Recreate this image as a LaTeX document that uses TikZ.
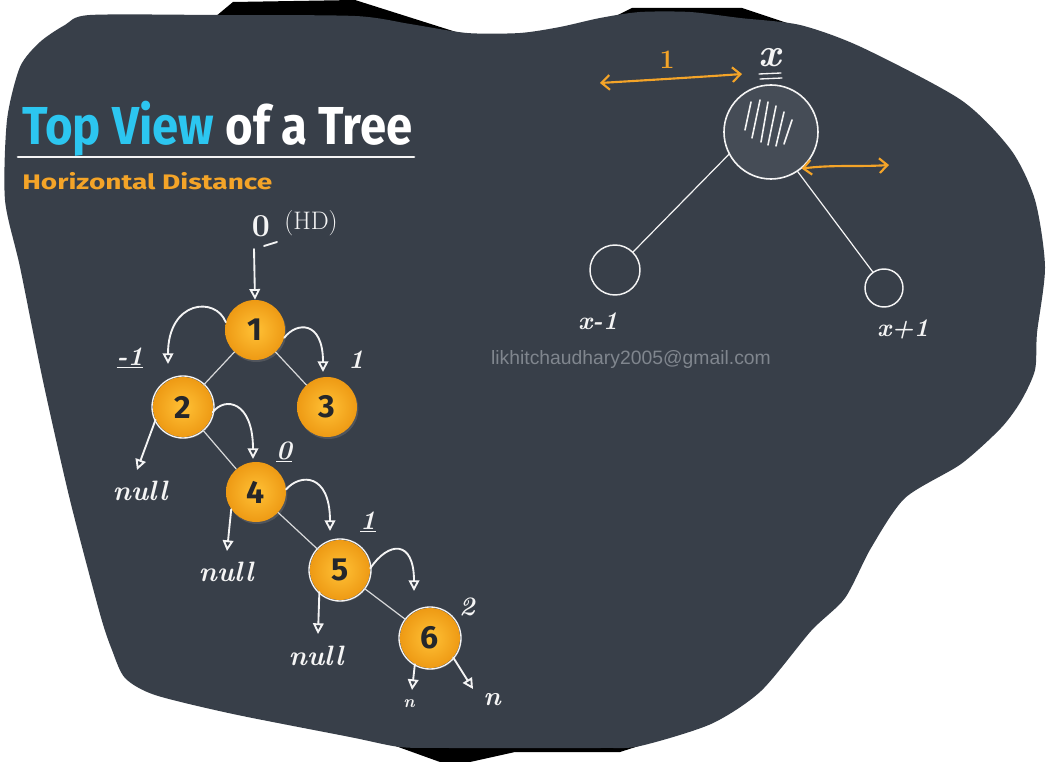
\documentclass[tikz,border=0pt]{standalone}
\usepackage{graphicx}
\usepackage{fontspec}
\setsansfont{Fira Sans}
\newfontfamily\mailfont{Liberation Sans}
\usetikzlibrary{arrows.meta,calc,positioning,shadows}
\definecolor{slate}{HTML}{383F49}
\definecolor{discgray}{HTML}{454C56}
\definecolor{topcyan}{HTML}{2CC6F0}
\definecolor{hdorange}{HTML}{F4A428}
\definecolor{ballhi}{HTML}{FFC136}
\definecolor{balllo}{HTML}{EE9A14}
\definecolor{digit}{HTML}{25272B}
\definecolor{mailgray}{HTML}{80868E}
\definecolor{chalk}{HTML}{F4F4F4}
\def\BallSize{45pt}
\def\RingR{31}
\def\HatchStrokes{-20/30/-26/2, -11/32/-19/-6, -3/30/-10/-10, 5/26/-3/-13, 13/20/5/-14, 21/12/13/-12}

\begin{document}
\begin{tikzpicture}[
  x=0.75pt, y=0.75pt,
  >={Triangle[open,length=8pt,width=8pt]}, line cap=round, line join=round,
  ball/.style={circle, minimum size=\BallSize, inner sep=0pt,
    inner color=ballhi, outer color=balllo, text=digit,
    font=\sffamily\bfseries\fontsize{24}{24}\selectfont,
    drop shadow={shadow xshift=1pt, shadow yshift=-1.5pt, opacity=0.35}},
  branch/.style={chalk!85!slate, line width=0.9pt},
  hand/.style={chalk, line width=1.4pt},
  handlabel/.style={chalk, inner sep=1pt, font=\bfseries\itshape\fontsize{20}{20}\selectfont},
  hdarrow/.style={hdorange, line width=1.6pt,
    {Straight Barb[length=6pt,width=11pt]}-{Straight Barb[length=6pt,width=11pt]}},
  hollow/.style={circle, draw=chalk, line width=1.1pt, inner sep=0pt}
]

% --- Board ---------------------------------------------------------------
\useasboundingbox (0,0) rectangle (1056,-762);
\fill[white] (0,0) rectangle (1056,-762);
\fill[black] (215,-17) -- (233,-2) -- (355,0) -- (475,-38) -- (215,-38) -- cycle;
\fill[black] (600,-24) -- (632,-8) -- (742,-8) -- (790,-24) -- cycle;
\fill[black] (390,-744) -- (440,-762) -- (470,-762) -- (515,-752) -- (620,-752) -- (645,-744) -- cycle;
\fill[slate] plot[smooth cycle, tension=0.45] coordinates {
  (90,-15) (217,-15) (355,-16) (410,-24) (467,-33) (520,-33) (560,-27)
  (600,-18) (640,-12) (690,-12) (740,-18) (800,-25) (861,-47) (961,-100)
  (1011,-150) (1035,-200) (1045,-267) (1037,-333) (1035,-370) (1021,-401)
  (1001,-428) (961,-464) (905,-498) (871,-548) (845,-598) (811,-631)
  (761,-691) (711,-724) (640,-746) (600,-748) (450,-748) (400,-747)
  (350,-737) (233,-714) (155,-695) (125,-678) (112,-650) (100,-614)
  (70,-500) (43,-381) (20,-267) (5,-200) (7,-120) (20,-67) (40,-42) (65,-25)};

% --- Heading -------------------------------------------------------------
\node[anchor=base west, inner sep=0pt, white] (title) at (22,-145)
  {\resizebox{292.5pt}{32.5pt}{\sffamily\bfseries\textcolor{topcyan}{Top View} of a Tree}};
\draw[chalk, line width=2pt] (18,-157) -- (414,-157);
\node[anchor=base west, inner sep=0pt, hdorange] (subtitle) at (22,-190)
  {\resizebox{187.5pt}{12.8pt}{\sffamily\bfseries Horizontal Distance}};

% --- Tree ----------------------------------------------------------------
\node[ball] (n1) at (255,-330) {1};
\node[ball] (n2) at (183,-407) {2};
\node[ball] (n3) at (327,-407) {3};
\node[ball] (n4) at (256,-492) {4};
\node[ball] (n5) at (340,-570) {5};
\node[ball] (n6) at (430,-638) {6};
\foreach \n in {n2,n5,n6} \draw[hand, line width=1pt] (\n) circle[radius=\RingR];

\draw[branch] (n1) -- (n2);
\draw[branch] (n1) -- (n3);
\draw[branch] (n2) -- (n4);
\draw[branch] (n4) -- (n5);
\draw[branch] (n5) -- (n6);

% --- Horizontal distance arrows --------------------------------------------
\coordinate (hd0) at (254,-249);
\coordinate (to2) at (168,-364);
\coordinate (to3) at (323,-372);
\coordinate (to4) at (253,-459);
\coordinate (to5) at (330,-531);
\coordinate (to6) at (414,-591);
\draw[hand,->] (hd0) -- (n1.north);
\draw[hand,->] (n1.165) .. controls +(-10,26) and +(0,64) .. (to2);
\draw[hand,->] (n1.-15) .. controls +(12,16) and +(0,52) .. (to3);
\draw[hand,->] (n2.-10) .. controls +(12,16) and +(0,58) .. (to4);
\draw[hand,->] (n4.5) .. controls +(14,16) and +(0,58) .. (to5);
\draw[hand,->] (n5.3) .. controls +(18,27) and +(0,52) .. (to6);

\node[chalk, font=\bfseries\fontsize{24}{24}\selectfont] (hdzero) at (261,-226) {0};
\draw[hand] (264,-246) -- (277,-242);
\node[chalk, font=\fontsize{19}{19}\selectfont] (hdtag) at (311,-223) {(HD)};
\node[handlabel] (hdm1) at (130,-358) {\underline{-1}};
\node[handlabel] (hdp1) at (356,-360) {1};
\node[handlabel] (hd4) at (284,-452) {\underline{0}};
\node[handlabel] (hd5) at (368,-522) {\underline{1}};
\node[handlabel] (hd6) at (467,-607) {2};

% --- Null children ---------------------------------------------------------
\coordinate (nul2) at (137,-470);
\coordinate (nul4) at (227,-551);
\coordinate (nul5) at (318,-634);
\coordinate (nul6a) at (412,-690);
\coordinate (nul6b) at (473,-689);
\draw[hand,->] (n2.205) -- (nul2);
\draw[hand,->] (n4.215) -- (nul4);
\draw[hand,->] (n5.227) -- (nul5);
\draw[hand,->] (n6.240) -- (nul6a);
\draw[hand,->] (n6.-40) -- (nul6b);
\node[handlabel, font=\bfseries\itshape\fontsize{21}{21}\selectfont] (null2) at (140,-491) {null};
\node[handlabel, font=\bfseries\itshape\fontsize{21}{21}\selectfont] (null4) at (226,-572) {null};
\node[handlabel, font=\bfseries\itshape\fontsize{21}{21}\selectfont] (null5) at (316,-656) {null};
\node[handlabel, font=\bfseries\itshape\fontsize{13}{13}\selectfont] (null6a) at (409,-704) {n};
\node[handlabel] (null6b) at (492,-700) {n};

\node[mailgray, font=\mailfont\fontsize{14.5}{14.5}\selectfont] (mail) at (631,-360)
  {likhitchaudhary2005@gmail.com};

% --- Rule sketch -----------------------------------------------------------
\node[hollow, fill=discgray, minimum size=70.5pt, line width=1.2pt] (xnode) at (771,-132) {};
\node[hollow, minimum size=37.5pt] (xleft) at (615,-270) {};
\node[hollow, minimum size=28.5pt] (xright) at (884,-288) {};
\draw[branch, chalk] (xnode.208) -- (xleft.45);
\draw[branch, chalk] (xnode.-56) -- (xright.125);
\foreach \a/\b/\c/\d in \HatchStrokes
  \draw[hand, line width=1.2pt] ($(xnode)+(\a,\b)$) -- ($(xnode)+(\c,\d)$);

\node[handlabel, font=\bfseries\itshape\fontsize{30}{30}\selectfont] (xtop) at (770,-58) {x};
\draw[hand, line width=1pt] (759,-74) -- (781,-73);
\draw[hand, line width=1pt] (760,-79) -- (782,-78);
\node[handlabel, font=\bfseries\itshape\fontsize{19}{19}\selectfont] (xlefttext) at (598,-321) {x-1};
\node[handlabel, font=\bfseries\itshape\fontsize{19}{19}\selectfont] (xrighttext) at (903,-329) {x+1};

\coordinate (hdl) at (600,-83);
\coordinate (hdr) at (742,-74);
\coordinate (hdfar) at (889,-165);
\draw[hdarrow] (hdl) .. controls (650,-80) and (700,-77) .. (hdr);
\draw[hdarrow] (xnode.-50) .. controls +(30,4) and +(-30,-2) .. (hdfar);
\node[hdorange, font=\bfseries\fontsize{20}{20}\selectfont] (unit) at (667,-60) {1};

\end{tikzpicture}
\end{document}
